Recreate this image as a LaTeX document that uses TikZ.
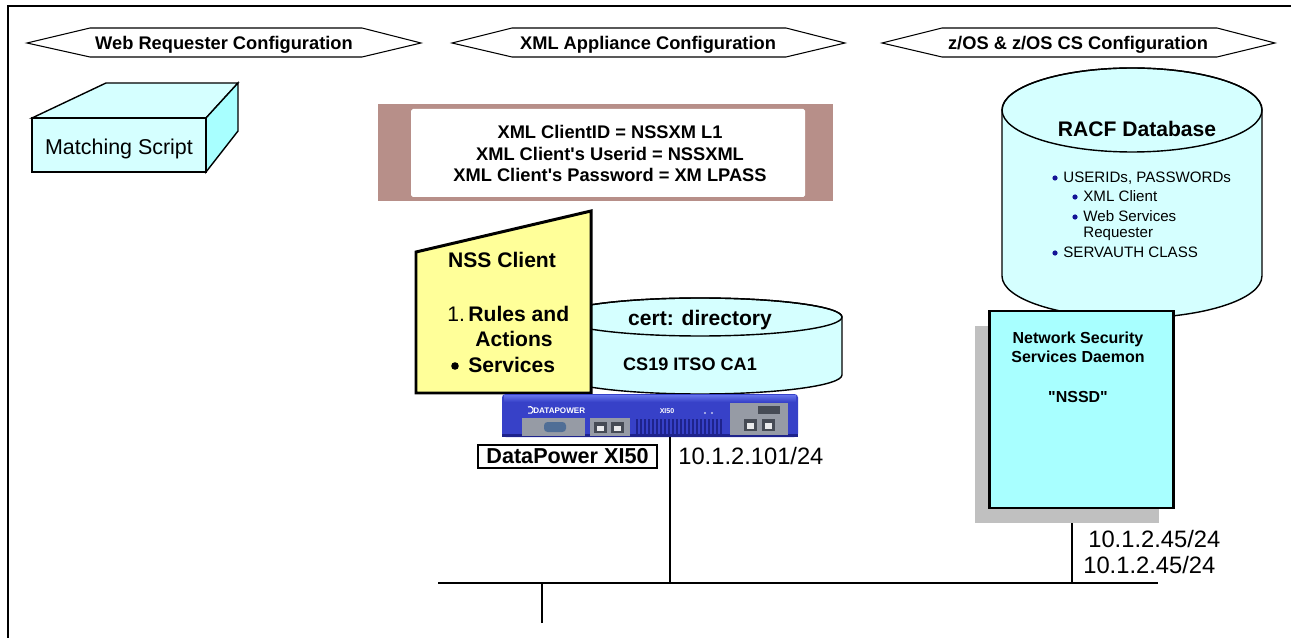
\documentclass[tikz,border=0pt]{standalone}
\usepackage{fontspec}
\setmainfont{Liberation Sans}
\newcommand\setfs[1]{\fontsize{#1}{#1}\selectfont}
\definecolor{cyanlight}{RGB}{213,255,255}
\definecolor{cyanbright}{RGB}{168,255,255}
\definecolor{notepaper}{RGB}{255,255,153}
\definecolor{frameback}{RGB}{183,143,137}
\definecolor{shadowgray}{RGB}{192,192,192}
\definecolor{bulletblue}{RGB}{20,20,150}
\definecolor{dptop}{RGB}{100,115,235}
\definecolor{dpfront}{RGB}{55,65,200}
\definecolor{dpdark}{RGB}{30,35,140}
\definecolor{dppanel}{RGB}{150,155,165}
\definecolor{dpport}{RGB}{70,75,85}
\definecolor{dpserial}{RGB}{80,110,150}
\begin{document}
\begin{tikzpicture}[x=0.02cm,y=-0.02cm,
  banner/.style={draw, line width=0.6pt, fill=white},
  txt/.style={inner sep=0pt, anchor=base},
  bannertext/.style={txt, font=\bfseries\setfs{10.4}},
  bigbold/.style={txt, font=\bfseries\setfs{12}},
  iplabel/.style={txt, anchor=base west, font=\setfs{13.5}},
  racfitem/.style={txt, anchor=base west, font=\setfs{8.6}},
  bluedot/.style={fill=bulletblue, draw=none},
  netline/.style={line width=0.8pt},
]
\useasboundingbox (0,0) rectangle (1291,638);

% outer frame (top and left edges)
\draw[line width=1.2pt] (8,638) -- (8,6) -- (1291,6);

% configuration banners
\draw[banner] (27,43) -- (90,28) -- (362,28) -- (421,43) -- (362,57) -- (90,57) -- cycle;
\node[bannertext] (bweb) at (224,49.5) {Web Requester Configuration};
\draw[banner] (452,43) -- (512,28) -- (786,28) -- (845,43) -- (786,57) -- (512,57) -- cycle;
\node[bannertext] (bxml) at (648,49.5) {XML Appliance Configuration};
\draw[banner] (882,43) -- (942,28) -- (1217,28) -- (1275,43) -- (1217,57) -- (942,57) -- cycle;
\node[bannertext] (bzos) at (1078,49.5) {z/OS \& z/OS CS Configuration};

% matching script box
\draw[line width=0.8pt, fill=cyanlight] (32,118) -- (106,83) -- (238,83) -- (206,118) -- cycle;
\draw[line width=0.8pt, fill=cyanbright] (206,118) -- (238,83) -- (238,131) -- (206,172) -- cycle;
\draw[line width=0.8pt, fill=cyanlight] (32,118) rectangle (206,172);
\node[txt, font=\setfs{12.2}] (mscript) at (119,155) {Matching Script};

% XML client identity panel
\fill[frameback] (378,104) rectangle (833,201);
\fill[white, rounded corners=1pt] (411,109) rectangle (805,197);
\node[txt, font=\bfseries\setfs{10.4}] (cid) at (610,139) {XML ClientID = NSSXM L1};
\node[txt, font=\bfseries\setfs{10.4}] (cuid) at (610,161) {XML Client\textquotesingle s Userid = NSSXML};
\node[txt, font=\bfseries\setfs{10.4}] (cpw) at (610,182) {XML Client\textquotesingle s Password = XM LPASS};

% cert: directory cylinder
\draw[line width=0.8pt, fill=cyanlight] (558,317) -- (558,375)
  arc[start angle=180, end angle=360, x radius=2.84cm, y radius=0.38cm]
  -- (842,317)
  arc[start angle=0, end angle=180, x radius=2.84cm, y radius=0.38cm] -- cycle;
\draw[line width=0.8pt] (700,317) ellipse [x radius=2.84cm, y radius=0.38cm];
\node[bigbold] (certdir) at (700,326) {cert: directory};
\node[txt, font=\bfseries\setfs{10.3}] (ca1) at (690,371) {CS19 ITSO CA1};

% NSS client note
\draw[line width=1.7pt, fill=notepaper] (416,252) -- (591,211) -- (591,393) -- (416,393) -- cycle;
\node[bigbold] (nssc) at (502,268) {NSS Client};
\node[txt, anchor=base west, font=\setfs{12}] (rules) at (447,322) {1.\,\textbf{Rules and}};
\node[bigbold, anchor=base west] (actions) at (475,347) {Actions};
\fill (455,366) circle[radius=3.8];
\node[bigbold, anchor=base west] (services) at (468,373) {Services};

% DataPower XI50 appliance
\fill[dpfront, rounded corners=2pt] (502,394) rectangle (798,437);
\shade[top color=dptop, bottom color=dpfront] (504,395) rectangle (796,402);
\fill[dpdark] (502,434) rectangle (798,437);
\draw[white, line width=0.6pt] (528,407) arc[start angle=120, end angle=-120, radius=0.07cm];
\node[txt, anchor=base west, text=white, font=\bfseries\setfs{4.6}] (dplogo) at (533,413) {DATAPOWER};
\node[txt, text=white, font=\bfseries\setfs{4}] (dpmodel) at (667,413) {XI50};
\fill[white!70!dpfront] (705,413) circle[radius=1.2];
\fill[white!70!dpfront] (712,413) circle[radius=1.2];
\fill[dppanel] (522,418) rectangle (585,436);
\fill[dpserial, rounded corners=2pt] (544,422) rectangle (566,432);
\fill[dppanel] (590,418) rectangle (630,436);
\fill[dpport] (594,422) rectangle (607,433);
\fill[dpport] (611,422) rectangle (624,433);
\fill[white!80!dppanel] (597,426) rectangle (604,431);
\fill[white!80!dppanel] (614,426) rectangle (621,431);
\foreach \vx in {636,640,...,722} \fill[dpdark] (\vx,419) rectangle (\vx+2,435);
\fill[dppanel] (730,403) rectangle (788,435);
\fill[dpport] (758,406) rectangle (780,414);
\fill[dpport] (744,419) rectangle (757,431);
\fill[dpport] (762,419) rectangle (775,431);
\fill[white!80!dppanel] (747,423) rectangle (754,429);
\fill[white!80!dppanel] (765,423) rectangle (772,429);
\coordinate (dp) at (670,437);

\node[draw, line width=1pt, inner sep=0pt, minimum width=3.58cm, minimum height=0.46cm,
  font=\bfseries\setfs{12.3}] (dplabel) at (567.5,456.5) {DataPower XI50};
\node[iplabel] (dpip) at (678,464) {10.1.2.101/24};

% RACF database cylinder
\draw[line width=0.8pt, fill=cyanlight] (1002,110) -- (1002,276)
  arc[start angle=180, end angle=360, x radius=2.6cm, y radius=0.84cm]
  -- (1262,110)
  arc[start angle=0, end angle=180, x radius=2.6cm, y radius=0.84cm] -- cycle;
\draw[line width=0.8pt] (1132,110) ellipse [x radius=2.6cm, y radius=0.84cm];
\node[bigbold] (racf) at (1137,137) {RACF Database};
\fill[bluedot] (1055,178) circle[radius=2.6];
\node[racfitem] (r1) at (1063,183) {USERIDs, PASSWORDs};
\fill[bluedot] (1075,197) circle[radius=2.6];
\node[racfitem] (r2) at (1083,202) {XML Client};
\fill[bluedot] (1075,217) circle[radius=2.6];
\node[racfitem] (r3) at (1083,222) {Web Services};
\node[racfitem] (r4) at (1083,238) {Requester};
\fill[bluedot] (1055,253) circle[radius=2.6];
\node[racfitem] (r5) at (1063,258) {SERVAUTH CLASS};

% network security services daemon
\fill[shadowgray] (975,326) rectangle (1159,523);
\draw[line width=1.7pt, fill=cyanbright] (989,311) rectangle (1173,508);
\node[txt, font=\bfseries\setfs{9.1}] (nssd1) at (1078,344) {Network Security};
\node[txt, font=\bfseries\setfs{9.1}] (nssd2) at (1078,362) {Services Daemon};
\node[txt, font=\bfseries\setfs{9.1}] (nssd3) at (1078,402) {\textquotedbl NSSD\textquotedbl};
\coordinate (nssdtap) at (1072,523);
\node[iplabel] (zip1) at (1088,547) {10.1.2.45/24};
\node[iplabel] (zip2) at (1083,573) {10.1.2.45/24};

% LAN segment
\coordinate (busL) at (438,583);
\coordinate (busR) at (1158,583);
\coordinate (stub) at (542,623);
\draw[netline] (busL) -- (busR);
\draw[netline] (dp) -- (dp |- busL);
\draw[netline] (nssdtap) -- (nssdtap |- busL);
\draw[netline] (stub) -- (stub |- busL);
\end{tikzpicture}
\end{document}
